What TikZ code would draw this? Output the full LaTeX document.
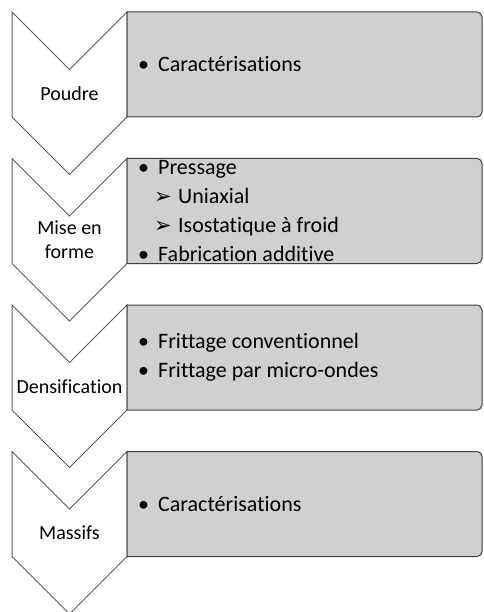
\documentclass[tikz,border=0pt]{standalone}
\usepackage{fontspec}
\setmainfont{Carlito}[Ligatures={NoCommon}]
\newfontfamily\dingfont{DejaVu Sans}
\usepackage{xcolor}
\usetikzlibrary{positioning}

\definecolor{panelfill}{HTML}{D0D0D0}
\definecolor{panelline}{HTML}{404040}
\definecolor{chevline}{HTML}{5A5A5A}

\newcommand{\itm}[1]{\makebox[20pt][l]{\textbullet}#1}
\newcommand{\subitm}[1]{\hspace*{16pt}\makebox[24pt][l]{{\dingfont\fontsize{21}{21}\selectfont ➢}}#1}

\begin{document}
\begin{tikzpicture}[
  x=1pt, y=-1pt,
  chevron/.style={draw=chevline, fill=white, line width=1pt, line join=miter},
  panel/.style={draw=panelline, fill=panelfill, line width=1pt},
  stage/.style={align=center, inner sep=0pt, font=\fontsize{20}{23.5}\selectfont},
  items/.style={anchor=west, align=left, inner sep=0pt, font=\fontsize{22}{29}\selectfont}
]
\useasboundingbox (0,0) rectangle (483,612);
\foreach \t in {12,158.5,305,451.5} {
  \draw[chevron] (12,\t) -- ++(57.5,57.5) -- ++(57.5,-57.5) -- ++(0,105) -- ++(-57.5,57.5) -- ++(-57.5,-57.5) -- cycle;
  \draw[panel] (127,\t) -- (477,\t) arc[start angle=-90, end angle=0, radius=5] -- (482,\t+100) arc[start angle=0, end angle=90, radius=5] -- (127,\t+105) -- cycle;
}
\node[stage] (poudre) at (69.5,93.25) {Poudre};
\node[stage] (mise) at (69.5,239.75) {Mise en\\forme};
\node[stage] (densif) at (69.5,386.25) {Densification};
\node[stage] (massifs) at (69.5,532.75) {Massifs};
\node[items] (carac1) at (138,64.5) {\itm{Caractérisations}};
\node[items] (pressage) at (138,211) {\itm{Pressage}\\\subitm{Uniaxial}\\\subitm{Isostatique à froid}\\\itm{Fabrication additive}};
\node[items] (frittage) at (138,357.5) {\itm{Frittage conventionnel}\\\itm{Frittage par micro-ondes}};
\node[items] (carac2) at (138,504) {\itm{Caractérisations}};
\end{tikzpicture}
\end{document}
